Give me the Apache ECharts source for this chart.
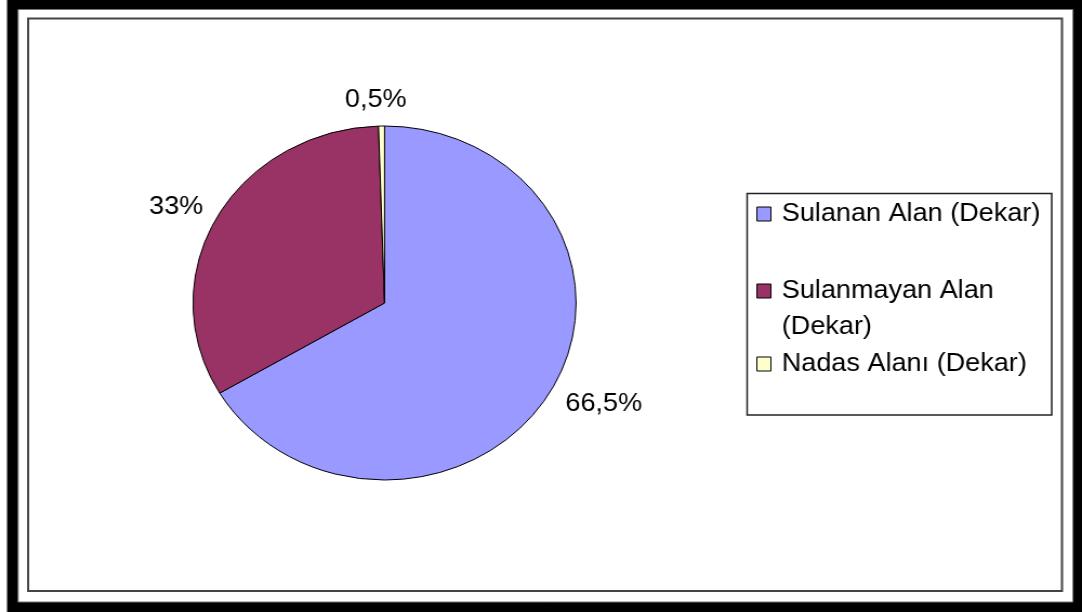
<!DOCTYPE html>
<html>
<head>
<meta charset="utf-8">
<style>
  html, body { margin: 0; padding: 0; background: #ffffff; overflow: hidden; }
  /* the chart is laid out 1000px wide and stretched to the 1082px window */
  #chart { width: 1000px; height: 612px; transform: scaleX(1.082); transform-origin: 0 0; }
</style>
<script src="https://cdn.jsdelivr.net/npm/echarts@6/dist/echarts.min.js"></script>
</head>
<body>
<div id="chart"></div>
<script>
// Land use shares (percent)
const categories = ['Sulanan Alan (Dekar)', 'Sulanmayan Alan (Dekar)', 'Nadas Alanı (Dekar)'];
const shares = [66.5, 33, 0.5];
const shareLabels = ['66,5%', '33%', '0,5%'];
const colors = ['#9999FF', '#993366', '#FFFFCC'];

const FONT = '"Liberation Sans", Arial, sans-serif';

const chart = echarts.init(document.getElementById('chart'), null, { renderer: 'canvas' });

const legendBase = {
  orient: 'vertical',
  left: 699,
  padding: 0,
  itemWidth: 13,
  itemHeight: 14,
  icon: 'rect',
  selectedMode: false,
  itemStyle: { borderColor: '#000', borderWidth: 1 },
  textStyle: { fontFamily: FONT, fontSize: 25, color: '#000', lineHeight: 36, width: 250, overflow: 'break', padding: [0, 0, 0, 5] }
};

// the wrapped entry gets an empty first line so its marker sits beside the first line of text
const legendTops = [196, 237, 346];
const legendLead = ['', '\n', ''];

// per-label nudges for the outside labels
const labelShift = [{ dx: -9, dy: 4 }, { dx: 10, dy: -1 }, { align: 'center', dy: -6 }];

chart.setOption({
  animation: false,
  backgroundColor: '#ffffff',
  graphic: [
    // heavy outer frame
    { type: 'rect', shape: { x: 6.5, y: 0, width: 993.5, height: 612 }, style: { fill: '#000' }, silent: true, z: 0 },
    { type: 'rect', shape: { x: 16.8, y: 9.5, width: 974.8, height: 592.5 }, style: { fill: '#fff', stroke: '#777', lineWidth: 1 }, silent: true, z: 1 },
    // plot area border
    { type: 'rect', shape: { x: 26, y: 18.5, width: 955.5, height: 572.5 }, style: { fill: '#fff', stroke: '#444', lineWidth: 2 }, silent: true, z: 2 },
    // legend box
    { type: 'rect', shape: { x: 690.5, y: 193.5, width: 281.5, height: 221.5 }, style: { fill: '#fff', stroke: '#222', lineWidth: 1.5 }, silent: true, z: 3 }
  ],
  legend: categories.map((name, i) => Object.assign({}, legendBase, {
    data: [name],
    top: legendTops[i],
    z: 10,
    formatter: (n) => legendLead[i] + n
  })),
  series: [{
    type: 'pie',
    center: [355.4, 303],
    radius: [0, 177],
    startAngle: 90,
    clockwise: true,
    z: 5,
    avoidLabelOverlap: false,
    itemStyle: { borderColor: '#000', borderWidth: 1 },
    label: {
      show: true,
      position: 'outside',
      fontFamily: FONT,
      fontSize: 25,
      color: '#000',
      formatter: (p) => shareLabels[p.dataIndex]
    },
    labelLine: { show: false, length: 20, length2: 0 },
    labelLayout: (p) => labelShift[p.dataIndex],
    emphasis: { disabled: true },
    data: categories.map((name, i) => ({ name, value: shares[i], itemStyle: { color: colors[i] } }))
  }]
});
</script>
</body>
</html>
